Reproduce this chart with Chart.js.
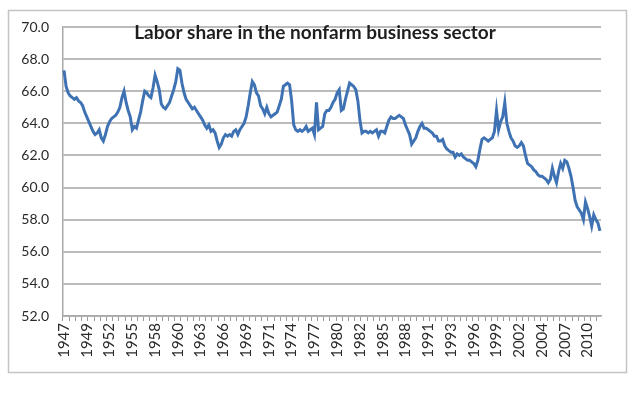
<!DOCTYPE html>
<html>
<head>
<meta charset="utf-8">
<script src="https://cdn.jsdelivr.net/npm/chart.js@4/dist/chart.umd.min.js"></script>
<style>
  html, body { margin: 0; padding: 0; background: #ffffff; }
  #wrap { position: relative; width: 640px; height: 395px; }
</style>
</head>
<body>
<div id="wrap"><canvas id="c" width="640" height="395"></canvas></div>
<script>
// ---- data ----
const chartTitle = 'Labor share in the nonfarm business sector';
const startYear = 1947;
const quartersPerYear = 4;
// quarterly labor share, 1947Q1 .. 2011Q4
const laborShare = [
  67.3, 66.3, 65.9, 65.7,   // 1947
  65.6, 65.5, 65.6, 65.4,   // 1948
  65.3, 65.1, 64.7, 64.4,   // 1949
  64.1, 63.8, 63.5, 63.3,   // 1950
  63.4, 63.6, 63.1, 62.9,   // 1951
  63.3, 63.8, 64.1, 64.3,   // 1952
  64.4, 64.5, 64.7, 65.0,   // 1953
  65.6, 66.0, 65.3, 64.8,   // 1954
  64.4, 63.6, 63.8, 63.7,   // 1955
  64.2, 64.7, 65.4, 66.0,   // 1956
  65.9, 65.7, 65.6, 66.2,   // 1957
  67.0, 66.6, 66.1, 65.2,   // 1958
  65.0, 64.9, 65.1, 65.3,   // 1959
  65.7, 66.1, 66.6, 67.4,   // 1960
  67.3, 66.5, 65.9, 65.5,   // 1961
  65.3, 65.1, 64.9, 65.0,   // 1962
  64.8, 64.6, 64.4, 64.2,   // 1963
  63.9, 63.7, 63.9, 63.5,   // 1964
  63.6, 63.4, 62.9, 62.5,   // 1965
  62.7, 63.1, 63.3, 63.2,   // 1966
  63.3, 63.2, 63.5, 63.6,   // 1967
  63.3, 63.6, 63.8, 64.0,   // 1968
  64.4, 65.1, 65.9, 66.6,   // 1969
  66.4, 65.9, 65.7, 65.1,   // 1970
  64.9, 64.6, 65.0, 64.6,   // 1971
  64.4, 64.5, 64.6, 64.7,   // 1972
  65.1, 65.5, 66.3, 66.4,   // 1973
  66.5, 66.4, 65.4, 63.9,   // 1974
  63.6, 63.5, 63.6, 63.5,   // 1975
  63.6, 63.8, 63.5, 63.6,   // 1976
  63.7, 63.3, 65.3, 63.6,   // 1977
  63.7, 63.8, 64.6, 64.8,   // 1978
  64.8, 65.0, 65.3, 65.5,   // 1979
  65.9, 66.1, 64.8, 64.9,   // 1980
  65.5, 66.0, 66.5, 66.4,   // 1981
  66.3, 66.1, 65.4, 64.2,   // 1982
  63.4, 63.5, 63.5, 63.4,   // 1983
  63.5, 63.4, 63.5, 63.6,   // 1984
  63.2, 63.5, 63.5, 63.4,   // 1985
  63.8, 64.2, 64.4, 64.3,   // 1986
  64.3, 64.4, 64.5, 64.4,   // 1987
  64.3, 63.9, 63.6, 63.3,   // 1988
  62.7, 62.9, 63.1, 63.5,   // 1989
  63.8, 64.0, 63.7, 63.7,   // 1990
  63.6, 63.5, 63.4, 63.2,   // 1991
  63.2, 62.9, 62.9, 63.0,   // 1992
  62.6, 62.4, 62.3, 62.2,   // 1993
  62.2, 61.9, 62.1, 62.0,   // 1994
  62.1, 61.9, 61.8, 61.7,   // 1995
  61.7, 61.6, 61.5, 61.3,   // 1996
  61.7, 62.4, 63.0, 63.1,   // 1997
  63.0, 62.9, 63.0, 63.1,   // 1998
  63.5, 64.8, 63.6, 64.1,   // 1999
  64.4, 65.3, 64.0, 63.5,   // 2000
  63.1, 62.9, 62.6, 62.5,   // 2001
  62.6, 62.8, 62.6, 62.0,   // 2002
  61.5, 61.4, 61.3, 61.1,   // 2003
  61.0, 60.8, 60.7, 60.7,   // 2004
  60.6, 60.5, 60.3, 60.5,   // 2005
  61.2, 60.7, 60.3, 61.0,   // 2006
  61.5, 61.2, 61.7, 61.6,   // 2007
  61.2, 60.7, 60.0, 59.2,   // 2008
  58.8, 58.6, 58.4, 58.0,   // 2009
  59.1, 58.7, 58.2, 57.6,   // 2010
  58.3, 58.0, 57.8, 57.3    // 2011
];
// category labels: one per quarter
const categories = laborShare.map((_, i) => String(startYear + Math.floor(i / quartersPerYear)));
// x tick labels shown every 11 quarters
const tickLabelEvery = 11;
const xTickLabels = ['1947','1949','1952','1955','1958','1960','1963','1966','1969','1971','1974','1977',
                     '1980','1982','1985','1988','1991','1993','1996','1999','2002','2004','2007','2010'];
const yMin = 52, yMax = 70, yStep = 2;

// ---- drawing ----
const frameAndTitle = {
  id: 'frameAndTitle',
  beforeDraw(chart) {
    const ctx = chart.ctx;
    ctx.save();
    ctx.fillStyle = '#ffffff';
    ctx.fillRect(0, 0, chart.width, chart.height);
    ctx.strokeStyle = '#c4c4c4';
    ctx.lineWidth = 1.5;
    ctx.strokeRect(8.5, 10.5, 618, 362);
    ctx.restore();
  },
  afterDraw(chart) {
    const ctx = chart.ctx;
    const a = chart.chartArea;
    ctx.save();
    ctx.font = 'bold 19px Lato, "Liberation Sans", sans-serif';
    ctx.fillStyle = '#1e1e1e';
    ctx.textAlign = 'center';
    ctx.textBaseline = 'middle';
    ctx.fillText(chartTitle, (a.left + a.right) / 2 - 17, a.top + 6);
    ctx.restore();
  }
};

new Chart(document.getElementById('c'), {
  type: 'line',
  data: {
    labels: categories,
    datasets: [{
      data: laborShare,
      borderColor: '#3f72b3',
      borderWidth: 3,
      pointRadius: 0,
      tension: 0,
      fill: false
    }]
  },
  options: {
    responsive: false,
    animation: false,
    layout: { padding: { top: 27, right: 39, bottom: 0, left: 0 } },
    plugins: { legend: { display: false }, tooltip: { enabled: false } },
    scales: {
      x: {
        offset: true,
        afterFit(scale) { scale.height = 79; },
        grid: {
          drawOnChartArea: false,
          drawTicks: true,
          tickLength: 5,
          offset: true,
          tickColor: (ctx) => (ctx.index % 3 === 0 ? '#9a9a9a' : 'rgba(0,0,0,0)'),
          tickWidth: 1
        },
        border: { display: true, color: '#a8a8a8', width: 1.5 },
        ticks: {
          autoSkip: false,
          minRotation: 90,
          maxRotation: 90,
          padding: 2,
          color: '#2a2a2a',
          font: { family: 'Lato, "Liberation Sans", sans-serif', size: 15 },
          callback: (value, index) => (index % tickLabelEvery === 0 ? xTickLabels[index / tickLabelEvery] : '')
        }
      },
      y: {
        min: yMin,
        max: yMax,
        afterFit(scale) { scale.width = 63; },
        grid: {
          color: '#bbbbbb',
          lineWidth: 2,
          drawTicks: false
        },
        border: { display: true, color: '#a8a8a8', width: 1.5 },
        ticks: {
          stepSize: yStep,
          padding: 14,
          color: '#2a2a2a',
          font: { family: 'Lato, "Liberation Sans", sans-serif', size: 14 },
          callback: (v) => Number(v).toFixed(1)
        }
      }
    }
  },
  plugins: [frameAndTitle]
});
</script>
</body>
</html>
